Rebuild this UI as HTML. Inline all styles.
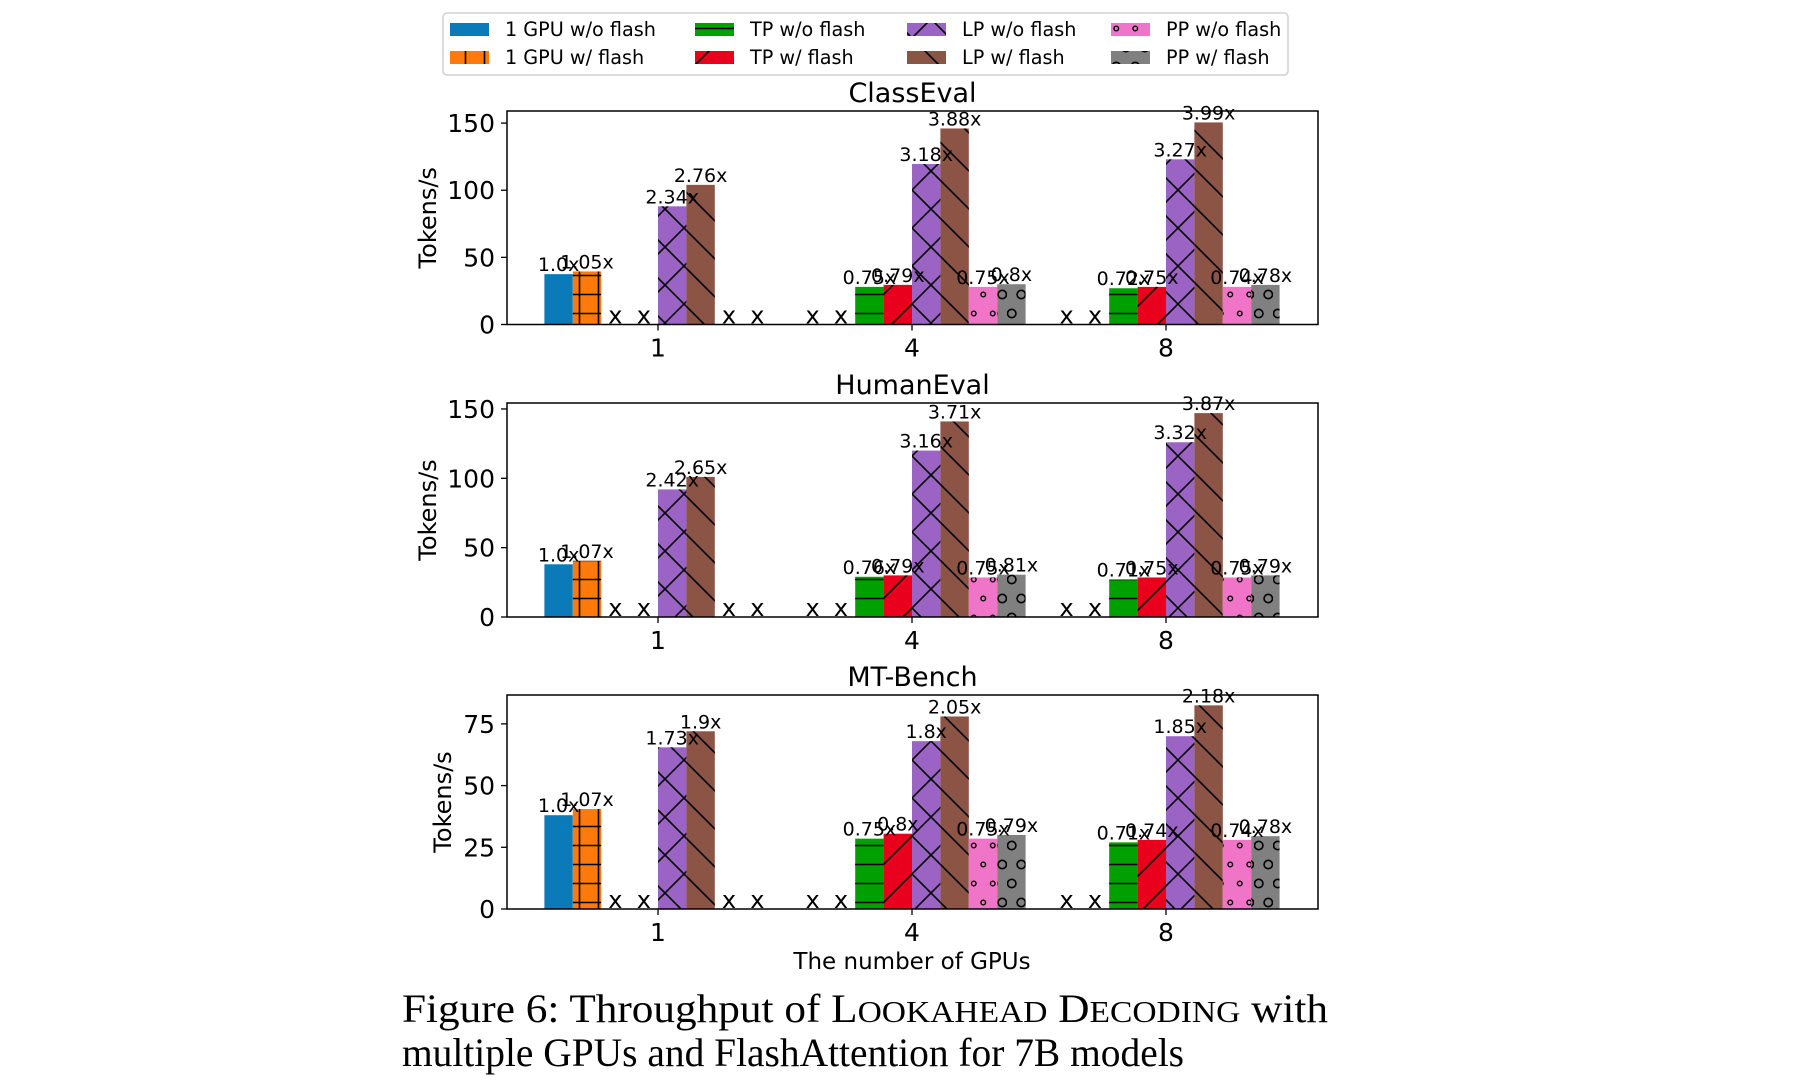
<!DOCTYPE html>
<html><head><meta charset="utf-8"><style>
html,body{margin:0;padding:0;background:#fff;}
svg{display:block;font-family:"DejaVu Sans","Liberation Sans",sans-serif;}
</style></head><body>
<svg id="fig" width="1812" height="1086" viewBox="0 0 1812 1086" xmlns="http://www.w3.org/2000/svg">
<defs>
<pattern id="h-plus" patternUnits="userSpaceOnUse" width="19" height="19"><path d="M0 9.5H19M9.5 0V19" stroke="#000" stroke-width="1.6"/></pattern>
<pattern id="h-dash" patternUnits="userSpaceOnUse" width="19" height="19"><path d="M0 9.5H19" stroke="#000" stroke-width="1.6"/></pattern>
<pattern id="h-slash" patternUnits="userSpaceOnUse" width="38" height="38"><path d="M-2 40L40 -2M-21 21L21 -21M17 59L59 17" stroke="#000" stroke-width="1.6"/></pattern>
<pattern id="h-back" patternUnits="userSpaceOnUse" width="38" height="38"><path d="M-2 -2L40 40M-21 17L21 59M17 -21L59 21" stroke="#000" stroke-width="1.6"/></pattern>
<pattern id="h-x" patternUnits="userSpaceOnUse" width="38" height="38"><path d="M-2 -2L40 40M-21 17L21 59M17 -21L59 21M-2 40L40 -2M-21 21L21 -21M17 59L59 17" stroke="#000" stroke-width="1.6"/></pattern>
<pattern id="h-dot" patternUnits="userSpaceOnUse" width="19" height="38"><circle cx="4.75" cy="9.5" r="2.3" fill="none" stroke="#000" stroke-width="1.4"/><circle cx="14.25" cy="28.5" r="2.3" fill="none" stroke="#000" stroke-width="1.4"/></pattern>
<pattern id="h-o" patternUnits="userSpaceOnUse" width="19" height="38"><circle cx="4.75" cy="9.5" r="4.2" fill="none" stroke="#000" stroke-width="1.6"/><circle cx="14.25" cy="28.5" r="4.2" fill="none" stroke="#000" stroke-width="1.6"/></pattern>
</defs>
<g id="legend"></g>
<g id="panels"></g>
<text x="912" y="969" text-anchor="middle" font-size="23">The number of GPUs</text>
<g font-family="'Liberation Serif',serif" font-size="40" fill="#000">
<text x="402" y="1022" textLength="926" lengthAdjust="spacingAndGlyphs">Figure 6: Throughput of L<tspan font-size="31">OOKAHEAD</tspan> D<tspan font-size="31">ECODING</tspan> with</text>
<text x="402" y="1066" textLength="782" lengthAdjust="spacingAndGlyphs">multiple GPUs and FlashAttention for 7B models</text>
</g>
</svg>
<script>
const NS="http://www.w3.org/2000/svg";
const categories=["1","4","8"];
const seriesNames=["1 GPU w/o flash","1 GPU w/ flash","TP w/o flash","TP w/ flash","LP w/o flash","LP w/ flash","PP w/o flash","PP w/ flash"];
const colors=["#0a7ab8","#ff7a0a","#00a000","#e8001c","#9b63c4","#8c5444","#f075c8","#808080"];
const hatches=[null,"h-plus","h-dash","h-slash","h-x","h-back","h-dot","h-o"];
const classEvalValues=[[37.5,null,null],[39.5,null,null],[null,28,27],[null,29.5,28],[88,119.5,123],[104,146,150.5],[null,28,28],[null,30,29.5]];
const classEvalLabels=[["1.0x","",""],["1.05x","",""],["","0.75x","0.72x"],["","0.79x","0.75x"],["2.34x","3.18x","3.27x"],["2.76x","3.88x","3.99x"],["","0.75x","0.74x"],["","0.8x","0.78x"]];
const humanEvalValues=[[38,null,null],[40.5,null,null],[null,29,27],[null,30,28.5],[92,120,126],[101,141,147],[null,28.5,28.5],[null,30.5,30]];
const humanEvalLabels=[["1.0x","",""],["1.07x","",""],["","0.76x","0.71x"],["","0.79x","0.75x"],["2.42x","3.16x","3.32x"],["2.65x","3.71x","3.87x"],["","0.75x","0.75x"],["","0.81x","0.79x"]];
const mtBenchValues=[[38,null,null],[40.5,null,null],[null,28.5,27],[null,30.5,28],[65.5,68,70],[72,78,82.5],[null,28.5,28],[null,30,29.5]];
const mtBenchLabels=[["1.0x","",""],["1.07x","",""],["","0.75x","0.71x"],["","0.8x","0.74x"],["1.73x","1.8x","1.85x"],["1.9x","2.05x","2.18x"],["","0.75x","0.74x"],["","0.79x","0.78x"]];
const classEvalTicks=[0,50,100,150];
const humanEvalTicks=[0,50,100,150];
const mtBenchTicks=[0,25,50,75];

function mk(tag,attrs,parent){const e=document.createElementNS(NS,tag);for(const k in attrs)e.setAttribute(k,attrs[k]);if(parent)parent.appendChild(e);return e;}

const leg=document.getElementById('legend');
const lb=mk('rect',{x:443,y:13,width:845,height:62,rx:4,fill:'#fff',stroke:'#d0d0d0','stroke-width':1.5},leg);


const colX=[450,695,907,1111];
seriesNames.forEach((n,i)=>{
  const c=Math.floor(i/2),r=i%2;
  const g=mk('g',{},leg);
  
  
  const y=23+r*28;
  mk('rect',{x:colX[c],y:y,width:39,height:13,fill:colors[i]},g);
  if(hatches[i])mk('rect',{x:colX[c],y:y,width:39,height:13,fill:'url(#'+hatches[i]+')'},g);
  const t=mk('text',{x:colX[c]+55,y:y+13,'font-size':19.2},g);
  t.textContent=n;
});

function panel(title,values,labels,ticks,ymax,top,bottom,ylabX){
  const g=mk('g',{},document.getElementById('panels'));
  
  
  const L=507,R=1318;
  const y=v=>bottom-(v/ymax)*(bottom-top);
  const gx=i=>658+i*254;
  const bw=28.4;
  const tt=mk('text',{x:(L+R)/2,y:top-9,'text-anchor':'middle','font-size':27},g);
  
  
  tt.textContent=title;
  const yl=mk('text',{x:0,y:0,'text-anchor':'middle','font-size':24,transform:`translate(${ylabX},${(top+bottom)/2}) rotate(-90)`},g);
  
  
  yl.textContent='Tokens/s';
  ticks.forEach(t=>{
    mk('line',{x1:L-6,x2:L,y1:y(t),y2:y(t),stroke:'#000','stroke-width':1.3},g);
    const tl=mk('text',{x:L-12,y:y(t)+9,'text-anchor':'end','font-size':25},g);
    
    
    tl.textContent=t;
  });
  categories.forEach((c,j)=>{
    mk('line',{x1:gx(j),x2:gx(j),y1:bottom,y2:bottom+6,stroke:'#000','stroke-width':1.3},g);
    const tl=mk('text',{x:gx(j),y:bottom+32,'text-anchor':'middle','font-size':25},g);
    
    
    tl.textContent=c;
  });
  const barLayer=mk('g',{},g);
  const labelLayer=mk('g',{},g);
  values.forEach((ser,i)=>{
    ser.forEach((v,j)=>{
      const x0=gx(j)+(i-4)*bw;
      if(v===null){
        const xm=mk('text',{x:x0+bw/2,y:bottom-1,'text-anchor':'middle','font-size':24},labelLayer);
        
        
        xm.textContent='x';
        return;
      }
      const b=mk('rect',{x:x0,y:y(v),width:bw,height:bottom-y(v),fill:colors[i]},barLayer);
      
      
      if(hatches[i])mk('rect',{x:x0,y:y(v),width:bw,height:bottom-y(v),fill:'url(#'+hatches[i]+')'},barLayer);
      const lt=mk('text',{x:x0+bw/2,y:y(v)-3,'text-anchor':'middle','font-size':19},labelLayer);
      
      
      lt.textContent=labels[i][j];
    });
  });
  mk('rect',{x:L,y:top,width:R-L,height:bottom-top,fill:'none',stroke:'#000','stroke-width':1.5},g);
}
panel('ClassEval',classEvalValues,classEvalLabels,classEvalTicks,159,111,324.5,436);
panel('HumanEval',humanEvalValues,humanEvalLabels,humanEvalTicks,154.3,403,617,436);
panel('MT-Bench',mtBenchValues,mtBenchLabels,mtBenchTicks,86.7,695,909,451);
</script>
</body></html>
